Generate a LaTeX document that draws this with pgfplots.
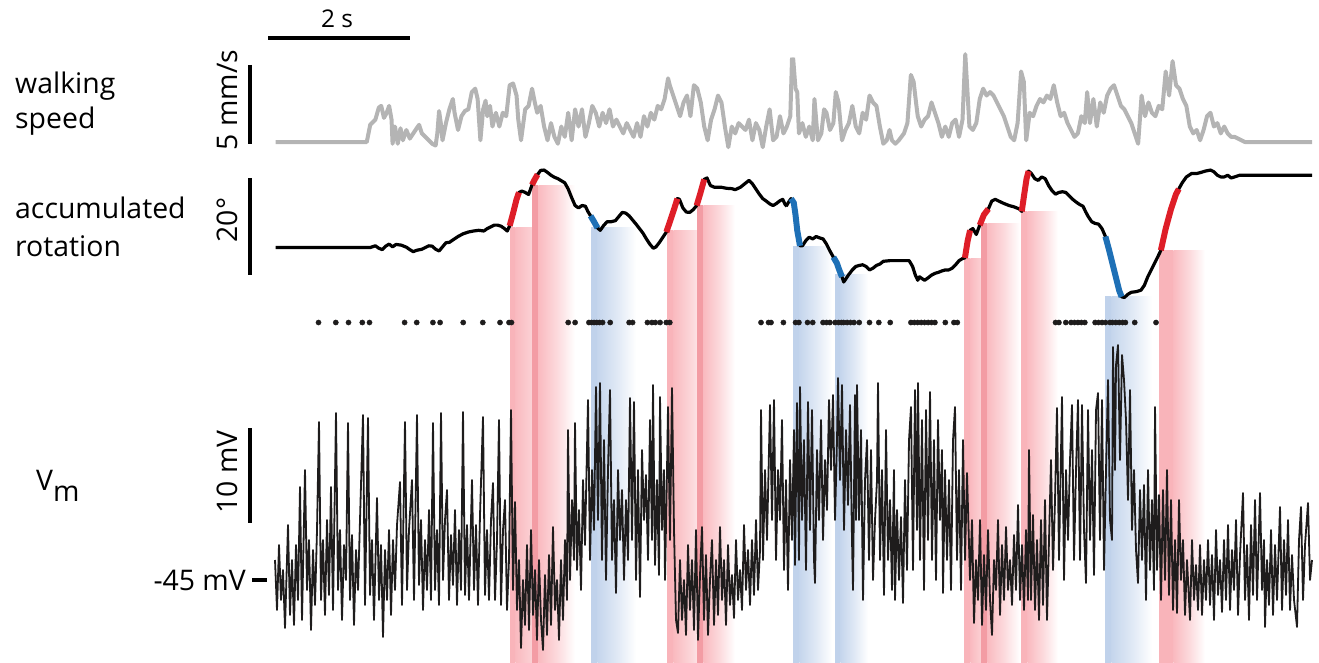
\documentclass[border=0pt]{standalone}
\usepackage{pgfplots}
\pgfplotsset{compat=1.18}
\usepackage{fontspec}
\setmainfont{Open Sans}
\definecolor{pk}{RGB}{249,180,186}
\definecolor{pkd}{RGB}{243,156,164}
\definecolor{bl}{RGB}{192,210,235}
\definecolor{spd}{RGB}{180,180,180}
\definecolor{rseg}{RGB}{222,30,40}
\definecolor{bseg}{RGB}{30,112,182}
\definecolor{vm}{RGB}{30,28,28}
\newcommand{\lbl}{\fontsize{28.5}{34}\selectfont}
% band: L, top, strip end, gradient start, gradient end, strip colour, gradient colour
\newcommand{\band}[7]{%
  \addplot[draw=none, fill=#6] coordinates {(#1,#2) (#3,#2) (#3,663) (#1,663)};
  \addplot[draw=none, left color=#7!92!white, right color=white, middle color=#7!50!white] coordinates {(#4,#2) (#5,#2) (#5,663) (#4,663)};
}
\begin{document}
\begin{tikzpicture}
\begin{axis}[
  scale only axis, width=1319bp, height=663bp,
  xmin=0, xmax=1319, ymin=0, ymax=663, y dir=reverse,
  hide axis, clip=false,
]
\addplot[draw=none] coordinates {(0,0) (1319,663)};
% shaded turn bands
\band{510}{227}{515}{515.4}{560}{pk}{pk}
\band{532}{185}{538}{538.4}{575}{pkd}{pk}
\band{591}{227}{597}{597.4}{636}{bl}{bl}
\band{667}{230}{673}{673.4}{712}{pk}{pk}
\band{697}{205}{703}{703.4}{735}{pkd}{pk}
\band{793}{246}{799}{799.4}{832}{bl}{bl}
\band{835}{274}{840}{840.4}{868}{bl}{bl}
\band{964}{258}{970}{970.4}{1000}{pk}{pk}
\band{981}{223}{987}{987.4}{1020}{pkd}{pk}
\band{1021}{211}{1027}{1027.4}{1058}{pk}{pk}
\band{1105}{296}{1111}{1111.4}{1152}{bl}{bl}
\band{1159}{250}{1173}{1173.4}{1205}{pk}{pk}
% membrane potential
\addplot[vm, line width=1.8bp, line join=round] coordinates {
(275,560)(277,610)(279,545)(281,600)(283,570)(285,628)(288,525)(290,615)(292,560)(294,625)(296,545)(298,600)(300,487)(302,620)(305,470)(307,590)(309,540)(311,630)(313,550)(315,605)(317,530)(319,422)(321,600)(323,540)(325,615)(327,520)(329,595)(331,487)(333,610)(336,413)(338,590)(340,530)(342,620)(344,545)(346,580)(348,423)(350,600)(352,535)(354,625)(356,550)(358,590)(360,520)(363,415)(365,605)(368,418)(370,595)(372,540)(374,620)(377,498)(379,600)(381,545)(383,637)(385,550)(387,600)(389,530)(391,615)(393,540)(395,590)(397,525)(400,482)(402,605)(405,422)(407,590)(409,530)(412,480)(414,600)(417,415)(419,585)(421,520)(423,610)(425,540)(427,590)(429,510)(431,600)(433,423)(435,590)(437,530)(439,605)(441,413)(443,580)(445,520)(447,490)(449,600)(451,535)(453,585)(455,510)(457,605)(459,530)(461,590)(463,412)(465,595)(467,525)(469,600)(472,480)(474,590)(476,525)(478,605)(480,515)(483,417)(485,595)(487,530)(489,600)(491,520)(493,483)(495,600)(497,540)(499,420)(501,605)(503,530)(505,500)(507,610)(509,560)(511,410)(513,590)
(515,502)(517,610)(519,560)(521,648)(523,580)(525,625)(527,545)(529,630)(531,530)(533,615)(535,570)(537,640)(539,560)(541,620)(543,650)(545,575)(547,635)(549,555)(551,625)(553,527)(555,610)(557,580)(559,640)(561,560)(563,620)(565,540)(567,600)
(568,430)(570,580)(572,500)(574,560)(575,423)(577,570)(579,510)(581,590)(583,480)(585,545)(588,400)(590,560)(592,470)(594,530)(596,387)(598,520)(600,383)(602,560)(604,440)(606,580)(608,470)(610,390)(612,560)(614,500)(616,593)(618,470)(620,540)(622,490)(624,580)(626,500)(628,560)(630,398)(632,540)(634,402)(636,580)(638,470)(640,597)(642,450)(644,520)(646,475)(648,560)(650,420)(652,540)(653,385)(655,565)(657,480)(659,575)(660,397)(662,530)(664,470)(665,580)(667,470)(668,407)(670,540)(672,388)(674,530)
(676,620)(678,633)(680,560)(682,620)(684,580)(686,635)(688,545)(690,610)(692,560)(694,630)(696,530)(698,640)(700,575)(702,527)(704,620)(706,555)(708,635)(710,580)(712,540)(714,625)(716,560)(718,615)(720,527)(722,600)(724,560)(726,625)(728,545)(730,605)(732,575)(734,618)(736,540)(738,600)(740,570)(742,610)(744,525)(746,590)(748,550)(750,605)(752,540)(754,595)(756,520)(758,590)(760,550)
(761,410)(763,560)(765,470)(767,540)(770,405)(772,520)(774,400)(776,560)(778,470)(780,520)(782,420)(784,570)(786,480)(788,590)(790,460)(792,540)(794,430)(795,565)(797,403)(799,560)(800,387)(802,520)(804,440)(806,570)(808,402)(810,530)(812,410)(814,560)(815,583)(817,450)(819,520)(821,420)(823,540)(825,460)(827,510)(829,400)(831,470)(833,395)(835,520)(837,440)(838,378)(840,480)(842,385)(844,530)(846,430)(848,505)(850,405)(852,540)(853,590)(855,395)(856,520)(857,385)(859,520)(861,430)(863,600)(865,480)(867,440)(869,560)(871,450)(873,580)(875,520)(877,480)(878,383)(880,560)(882,470)(884,595)(886,430)(888,560)(890,500)(892,590)(894,470)(895,600)(897,510)(899,580)(901,517)(903,603)(905,480)(907,570)(909,440)(911,407)(913,570)(915,390)(917,530)(918,383)(920,560)(922,420)(924,590)(926,410)(928,540)(930,392)(932,560)(934,440)(936,580)(938,420)(940,520)(942,450)(943,593)(945,470)(947,560)(949,480)(951,590)(953,440)(955,407)(957,560)(959,470)(961,590)(963,440)(965,560)(967,473)
(970,580)(972,520)(974,623)(976,560)(978,600)(980,520)(982,625)(984,555)(986,610)(988,530)(990,600)(992,635)(994,560)(996,590)(998,520)(1000,615)(1002,545)(1004,600)(1006,527)(1008,590)(1010,560)(1012,605)(1014,535)(1016,590)(1018,505)(1020,600)(1022,545)(1024,610)(1026,530)(1028,600)(1029,450)(1031,600)(1033,515)(1035,610)(1037,540)(1039,620)(1041,520)(1043,605)(1045,500)(1047,620)(1049,540)
(1051,460)(1053,570)(1055,500)(1057,408)(1059,560)(1062,397)(1064,580)(1066,470)(1068,540)(1070,460)(1072,405)(1074,560)(1076,470)(1078,400)(1080,560)(1082,405)(1084,530)(1086,583)(1088,410)(1090,540)(1092,450)(1094,575)(1096,410)(1098,393)(1100,540)(1102,400)(1104,570)
(1106,470)(1108,380)(1110,520)(1112,540)(1113,347)(1115,470)(1116,365)(1118,345)(1120,460)(1122,355)(1124,380)(1126,420)(1128,500)(1130,390)(1132,530)(1134,470)(1136,550)
(1138,583)(1140,490)(1142,560)(1144,485)(1146,600)(1148,470)(1150,570)(1152,500)(1154,590)(1155,407)(1157,570)(1159,495)(1161,600)(1163,490)(1165,580)(1167,470)(1169,595)(1171,500)(1173,610)(1175,540)(1177,613)(1179,500)(1181,580)(1183,540)(1185,615)(1187,560)(1189,600)
(1190,620)(1192,540)(1194,600)(1196,565)(1198,610)(1200,545)(1202,615)(1204,560)(1206,600)(1208,540)(1210,605)(1212,555)(1214,620)(1216,530)(1218,595)(1220,560)(1222,612)(1224,540)(1226,600)(1228,525)(1230,610)(1232,550)(1234,590)(1236,520)(1238,615)(1240,555)(1243,493)(1245,600)(1247,545)(1249,620)(1251,525)(1253,595)(1255,500)(1257,600)(1260,493)(1262,590)(1264,540)(1265,627)(1267,560)(1269,605)(1271,530)(1273,615)(1275,545)(1277,600)(1280,507)(1282,610)(1284,540)(1286,595)(1288,520)(1290,610)(1292,555)(1294,600)(1297,627)(1299,540)(1301,507)(1303,600)(1305,545)(1308,503)(1310,580)(1312,560)
};
% spikes (raster)
\addplot[only marks, mark=*, mark size=2.6bp, mark options={fill=vm, draw=vm}] coordinates {
(318.5,322.5)(335.8,322.5)(348.5,322.5)(362.3,322.5)(369.5,322.5)(404.6,322.5)(416.7,322.5)(432.9,322.5)(440.1,322.5)(463.2,322.5)(482.8,322.5)(500,322.5)(509,322.5)(511.5,322.5)(568.2,322.5)(575.1,322.5)(588.9,322.5)(591.3,322.5)(594,322.5)(596.8,322.5)(599.5,322.5)(602.6,322.5)(610.2,322.5)(629.1,322.5)(632.6,322.5)(647.4,322.5)(651.9,322.5)(655.3,322.5)(660.1,322.5)(666.3,322.5)(669.8,322.5)(761,322.5)(768.5,322.5)(771,322.5)(783.4,322.5)(795.5,322.5)(798.9,322.5)(807.5,322.5)(812.7,322.5)(823,322.5)(826.5,322.5)(829.9,322.5)(835.1,322.5)(838.5,322.5)(841.3,322.5)(843.7,322.5)(847.1,322.5)(850.6,322.5)(854,322.5)(859.2,322.5)(869.5,322.5)(878.8,322.5)(890.2,322.5)(910.9,322.5)(914.3,322.5)(917.7,322.5)(921.2,322.5)(924.6,322.5)(928.1,322.5)(931.5,322.5)(934.9,322.5)(945.3,322.5)(953.9,322.5)(957.3,322.5)(1055.5,322.5)(1058.9,322.5)(1065.8,322.5)(1071,322.5)(1074.4,322.5)(1077.9,322.5)(1081.3,322.5)(1084.8,322.5)(1095.1,322.5)(1098.5,322.5)(1102,322.5)(1105.4,322.5)(1109.9,322.5)(1112.3,322.5)(1115.8,322.5)(1119.2,322.5)(1122.6,322.5)(1125.4,322.5)(1134.7,322.5)(1156,322.5)
};
% walking speed
\addplot[spd, line width=4bp, line join=round] table[row sep=\\, x expr=260+\thisrow{x}/2.904, y expr=37+\thisrow{y}/2.904] {
x y\\ 45 305\\ 310 305\\ 320 255\\ 335 240\\ 345 205\\ 352 200\\ 360 235\\ 368 220\\ 375 200\\ 382 240\\ 385 310\\ 392 260\\ 400 310\\ 408 265\\ 415 300\\ 425 270\\ 435 295\\ 445 280\\ 455 265\\ 462 255\\ 470 280\\ 480 290\\ 490 300\\ 500 310\\ 510 315\\ 515 280\\ 520 215\\ 525 250\\ 530 300\\ 540 250\\ 550 210\\ 560 180\\ 565 220\\ 575 270\\ 585 230\\ 595 215\\ 605 210\\ 615 160\\ 625 150\\ 632 180\\ 640 300\\ 648 210\\ 655 185\\ 660 230\\ 668 200\\ 675 260\\ 685 220\\ 695 260\\ 705 220\\ 715 230\\ 725 140\\ 735 135\\ 745 170\\ 750 240\\ 758 300\\ 770 210\\ 780 200\\ 790 150\\ 798 190\\ 805 220\\ 815 200\\ 825 260\\ 835 300\\ 845 250\\ 855 290\\ 865 310\\ 875 260\\ 885 290\\ 895 220\\ 905 300\\ 915 210\\ 925 260\\ 935 210\\ 945 290\\ 955 250\\ 965 200\\ 975 220\\ 985 260\\ 995 220\\ 1005 250\\ 1015 210\\ 1025 260\\ 1035 240\\ 1045 260\\ 1055 280\\ 1065 250\\ 1075 270\\ 1085 290\\ 1095 250\\ 1105 290\\ 1115 230\\ 1125 260\\ 1135 220\\ 1145 240\\ 1155 200\\ 1165 210\\ 1175 180\\ 1185 120\\ 1190 140\\ 1200 170\\ 1210 200\\ 1220 230\\ 1230 190\\ 1240 170\\ 1250 230\\ 1260 140\\ 1270 150\\ 1280 190\\ 1290 260\\ 1300 300\\ 1310 240\\ 1320 210\\ 1330 170\\ 1340 190\\ 1350 260\\ 1360 320\\ 1370 260\\ 1380 280\\ 1390 250\\ 1400 260\\ 1410 270\\ 1420 240\\ 1430 300\\ 1440 250\\ 1450 270\\ 1460 320\\ 1470 260\\ 1480 210\\ 1490 300\\ 1500 290\\ 1510 230\\ 1520 280\\ 1530 260\\ 1540 230\\ 1545 60\\
};
\addplot[spd, line width=4bp, line join=round] table[row sep=\\, x expr=780+\thisrow{x}/2.904, y expr=37+\thisrow{y}/2.904] {
x y\\ 38 60\\ 45 150\\ 50 160\\ 55 280\\ 65 250\\ 75 290\\ 85 260\\ 95 300\\ 100 180\\ 110 300\\ 120 280\\ 128 210\\ 135 220\\ 145 270\\ 155 250\\ 162 160\\ 170 190\\ 180 300\\ 190 270\\ 200 250\\ 210 200\\ 220 260\\ 230 280\\ 240 220\\ 250 240\\ 260 170\\ 270 190\\ 280 200\\ 290 260\\ 300 310\\ 310 300\\ 318 270\\ 325 300\\ 335 310\\ 345 300\\ 360 280\\ 370 250\\ 380 110\\ 388 130\\ 395 190\\ 400 230\\ 410 260\\ 420 240\\ 430 230\\ 440 190\\ 450 220\\ 460 250\\ 470 290\\ 480 260\\ 490 290\\ 500 250\\ 510 240\\ 520 290\\ 530 240\\ 538 50\\ 545 170\\ 550 260\\ 560 270\\ 570 250\\ 580 180\\ 590 150\\ 600 170\\ 610 160\\ 620 170\\ 630 190\\ 640 210\\ 650 230\\ 660 260\\ 670 290\\ 680 300\\ 690 250\\ 700 100\\ 708 130\\ 715 300\\ 725 220\\ 735 230\\ 745 200\\ 755 180\\ 765 190\\ 775 170\\ 785 180\\ 795 140\\ 805 190\\ 815 230\\ 825 220\\ 835 250\\ 845 270\\ 855 290\\ 865 280\\ 875 230\\ 885 250\\ 892 160\\ 900 250\\ 910 180\\ 920 260\\ 930 190\\ 940 220\\ 950 170\\ 960 150\\ 970 140\\ 980 170\\ 990 200\\ 1000 210\\ 1010 230\\ 1020 250\\ 1030 280\\ 1040 310\\ 1050 170\\ 1060 230\\ 1070 190\\ 1080 220\\ 1090 230\\ 1100 200\\ 1110 210\\ 1120 100\\ 1130 170\\ 1140 70\\ 1150 140\\ 1160 150\\ 1170 180\\ 1180 200\\ 1190 260\\ 1200 280\\ 1210 270\\ 1220 300\\ 1230 270\\ 1240 230\\ 1250 220\\ 1260 260\\ 1270 250\\ 1280 280\\ 1290 260\\ 1300 280\\ 1310 290\\ 1320 290\\ 1340 300\\ 1350 305\\ 1545 305\\
};
% accumulated rotation
\addplot[black, line width=3.2bp, line join=round] table[row sep=\\, x expr=260+\thisrow{x}/2.904, y expr=158+\thisrow{y}/2.904] {
x y\\ 45 260\\ 320 260\\ 335 255\\ 345 262\\ 355 266\\ 365 256\\ 375 250\\ 385 258\\ 395 251\\ 410 253\\ 425 259\\ 435 266\\ 445 272\\ 455 268\\ 470 265\\ 480 260\\ 490 255\\ 500 256\\ 510 265\\ 520 270\\ 530 258\\ 540 246\\ 550 245\\ 560 238\\ 575 228\\ 590 220\\ 605 215\\ 620 212\\ 635 210\\ 650 212\\ 660 205\\ 670 200\\ 680 195\\ 690 195\\ 700 198\\ 710 205\\ 718 212\\ 725 197\\ 735 160\\ 745 120\\ 752 100\\ 760 96\\ 770 100\\ 780 106\\ 790 78\\ 798 62\\ 806 48\\ 815 36\\ 825 35\\ 835 42\\ 845 50\\ 855 56\\ 865 60\\ 875 66\\ 885 72\\ 895 90\\ 905 115\\ 915 138\\ 925 145\\ 935 138\\ 945 140\\ 952 155\\ 960 168\\ 970 185\\ 980 203\\ 988 210\\ 998 196\\ 1008 185\\ 1020 185\\ 1032 182\\ 1042 170\\ 1052 158\\ 1062 160\\ 1072 168\\ 1082 180\\ 1092 192\\ 1102 205\\ 1112 218\\ 1122 235\\ 1132 250\\ 1142 262\\ 1150 258\\ 1160 245\\ 1170 230\\ 1180 215\\ 1192 180\\ 1202 150\\ 1212 118\\ 1218 120\\ 1228 145\\ 1238 157\\ 1248 158\\ 1258 150\\ 1268 138\\ 1278 105\\ 1290 62\\ 1298 58\\ 1308 80\\ 1320 85\\ 1340 85\\ 1355 88\\ 1370 89\\ 1380 92\\ 1395 85\\ 1410 73\\ 1420 65\\ 1430 75\\ 1440 90\\ 1450 105\\ 1460 118\\ 1470 125\\ 1480 133\\ 1490 138\\ 1500 132\\ 1510 124\\ 1518 120\\ 1525 135\\ 1530 140\\
};
\addplot[black, line width=3.2bp, line join=round] table[row sep=\\, x expr=780+\thisrow{x}/2.904, y expr=158+\thisrow{y}/2.904] {
x y\\ 18 140\\ 25 128\\ 32 118\\ 40 130\\ 45 165\\ 50 210\\ 58 255\\ 65 255\\ 75 240\\ 85 230\\ 95 235\\ 105 228\\ 115 232\\ 125 235\\ 135 250\\ 145 270\\ 155 288\\ 165 305\\ 172 325\\ 180 345\\ 185 360\\ 192 350\\ 200 338\\ 210 325\\ 220 315\\ 230 312\\ 240 310\\ 250 315\\ 260 325\\ 270 320\\ 280 312\\ 290 308\\ 300 300\\ 320 298\\ 340 298\\ 360 298\\ 375 298\\ 385 315\\ 393 340\\ 400 355\\ 405 345\\ 412 350\\ 420 355\\ 430 348\\ 440 340\\ 450 335\\ 460 332\\ 470 328\\ 480 325\\ 490 325\\ 500 320\\ 510 310\\ 520 298\\ 530 292\\ 537 290\\ 545 240\\ 552 210\\ 560 205\\ 570 222\\ 580 195\\ 592 165\\ 605 148\\ 615 125\\ 625 120\\ 635 125\\ 650 132\\ 665 138\\ 680 142\\ 695 148\\ 702 155\\ 710 100\\ 716 60\\ 722 38\\ 730 45\\ 740 60\\ 750 65\\ 760 55\\ 770 60\\ 780 80\\ 790 95\\ 800 105\\ 810 100\\ 820 98\\ 830 100\\ 840 110\\ 850 120\\ 860 128\\ 870 135\\ 880 140\\ 887 155\\ 895 170\\ 905 185\\ 915 190\\ 925 192\\ 935 205\\ 945 228\\ 955 265\\ 965 305\\ 975 345\\ 985 385\\ 992 403\\ 1000 405\\ 1010 396\\ 1020 390\\ 1035 388\\ 1048 384\\ 1058 370\\ 1068 345\\ 1078 325\\ 1088 305\\ 1098 285\\ 1106 268\\ 1120 205\\ 1135 150\\ 1150 105\\ 1158 90\\ 1168 72\\ 1180 55\\ 1195 45\\ 1210 45\\ 1222 42\\ 1235 38\\ 1250 35\\ 1260 40\\ 1270 50\\ 1280 55\\ 1290 55\\ 1300 50\\ 1310 58\\ 1320 55\\ 1335 50\\ 1545 50\\
};
% coloured turn segments
\addplot[rseg, line width=6bp] table[row sep=\\, x expr=260+\thisrow{x}/2.904, y expr=158+\thisrow{y}/2.904] {x y\\ 725 197\\ 735 160\\ 745 120\\ 752 100\\};
\addplot[rseg, line width=6bp] table[row sep=\\, x expr=260+\thisrow{x}/2.904, y expr=158+\thisrow{y}/2.904] {x y\\ 790 78\\ 798 62\\ 806 48\\};
\addplot[rseg, line width=6bp] table[row sep=\\, x expr=260+\thisrow{x}/2.904, y expr=158+\thisrow{y}/2.904] {x y\\ 1180 215\\ 1192 180\\ 1202 150\\ 1212 118\\};
\addplot[rseg, line width=6bp] table[row sep=\\, x expr=260+\thisrow{x}/2.904, y expr=158+\thisrow{y}/2.904] {x y\\ 1268 138\\ 1278 105\\ 1290 62\\};
\addplot[bseg, line width=6bp] table[row sep=\\, x expr=260+\thisrow{x}/2.904, y expr=158+\thisrow{y}/2.904] {x y\\ 960 168\\ 970 185\\ 980 203\\};
\addplot[bseg, line width=6bp] table[row sep=\\, x expr=780+\thisrow{x}/2.904, y expr=158+\thisrow{y}/2.904] {x y\\ 32 118\\ 40 130\\ 45 165\\ 50 210\\ 58 255\\};
\addplot[bseg, line width=6bp] table[row sep=\\, x expr=780+\thisrow{x}/2.904, y expr=158+\thisrow{y}/2.904] {x y\\ 155 288\\ 165 305\\ 172 325\\ 180 345\\};
\addplot[bseg, line width=6bp] table[row sep=\\, x expr=780+\thisrow{x}/2.904, y expr=158+\thisrow{y}/2.904] {x y\\ 945 228\\ 955 265\\ 965 305\\ 975 345\\ 985 385\\ 992 403\\};
\addplot[rseg, line width=6bp] table[row sep=\\, x expr=780+\thisrow{x}/2.904, y expr=158+\thisrow{y}/2.904] {x y\\ 537 290\\ 545 240\\ 552 210\\};
\addplot[rseg, line width=6bp] table[row sep=\\, x expr=780+\thisrow{x}/2.904, y expr=158+\thisrow{y}/2.904] {x y\\ 580 195\\ 592 165\\ 605 148\\};
\addplot[rseg, line width=6bp] table[row sep=\\, x expr=780+\thisrow{x}/2.904, y expr=158+\thisrow{y}/2.904] {x y\\ 702 155\\ 710 100\\ 716 60\\ 722 38\\};
\addplot[rseg, line width=6bp] table[row sep=\\, x expr=780+\thisrow{x}/2.904, y expr=158+\thisrow{y}/2.904] {x y\\ 1106 268\\ 1120 205\\ 1135 150\\ 1150 105\\ 1158 90\\};
% scale bars
\addplot[black, line width=3.2bp] coordinates {(268,38) (410,38)};
\addplot[black, line width=3.2bp] coordinates {(250,65) (250,144)};
\addplot[black, line width=3.2bp] coordinates {(250,178) (250,275)};
\addplot[black, line width=3.2bp] coordinates {(250,428) (250,523)};
\addplot[black, line width=3.2bp] coordinates {(252,580) (267,580)};
% labels
\node[anchor=base, inner sep=0] at (axis cs:337,28) {\fontsize{24.5}{29}\selectfont 2 s};
\node[anchor=base west, inner sep=0] at (axis cs:15,93) {\lbl walking};
\node[anchor=base west, inner sep=0] at (axis cs:15,128) {\lbl speed};
\node[anchor=base west, inner sep=0] at (axis cs:15,218) {\lbl accumulated};
\node[anchor=base west, inner sep=0] at (axis cs:15,256) {\lbl rotation};
\node[anchor=base, rotate=90, inner sep=0] at (axis cs:237,100) {\lbl 5 mm/s};
\node[anchor=base, rotate=90, inner sep=0] at (axis cs:237,220) {\lbl 20°};
\node[anchor=base, rotate=90, inner sep=0] at (axis cs:237,472) {\lbl 10 mV};
\node[anchor=base east, inner sep=0] at (axis cs:246,590) {\lbl -45 mV};
\node[anchor=base west, inner sep=0] at (axis cs:36,490) {\lbl V\lower 11bp\hbox{m}};
\end{axis}
\end{tikzpicture}
\end{document}
